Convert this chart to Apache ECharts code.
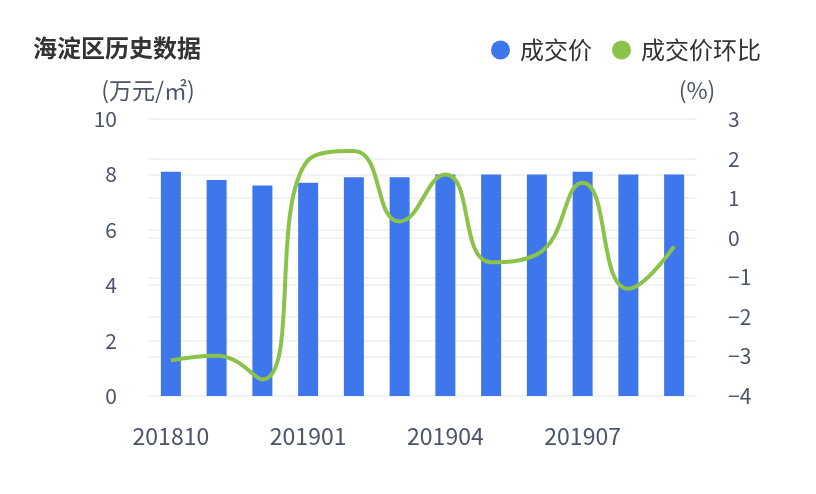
<!DOCTYPE html>
<html>
<head>
<meta charset="utf-8">
<script src="https://cdn.jsdelivr.net/npm/echarts@6/dist/echarts.min.js"></script>
<style>
    html, body { margin: 0; padding: 0; background: #fff; }
</style>
</head>
<body>
<div id="main" style="width: 816px;height:494px;"></div>
<script>
    // 月份
    var months = ['201810', '201811', '201812', '201901', '201902', '201903',
        '201904', '201905', '201906', '201907', '201908', '201909'];
    // 成交价（万元/㎡）
    var price = [8.1, 7.8, 7.6, 7.7, 7.9, 7.9, 8.0, 8.0, 8.0, 8.1, 8.0, 8.0];
    // 成交价环比（%）
    var priceMoM = [-3.1, -2.98, -3.58, 1.96, 2.19, 0.41, 1.6, -0.62, -0.42, 1.39, -1.29, -0.22];

    var font = 'Noto Sans CJK SC';
    var labelColor = '#4b5468';
    var gridColor = '#f2f3f5';

    var myChart = echarts.init(document.getElementById('main'));

    var option = {
        animation: false,
        title: {
            text: '海淀区历史数据',
            left: 33,
            top: 36,
            padding: 0,
            textStyle: {
                fontFamily: font,
                fontSize: 24,
                fontWeight: 'bold',
                color: '#333'
            }
        },
        legend: {
            left: 491,
            top: 38,
            padding: 0,
            icon: 'circle',
            itemWidth: 19,
            itemHeight: 19,
            itemGap: 20,
            textStyle: {
                fontFamily: font,
                fontSize: 24,
                color: '#333',
                padding: [0, 0, 0, 5]
            },
            data: ['成交价', '成交价环比']
        },
        grid: {
            left: 148,
            right: 119,
            top: 119,
            bottom: 98
        },
        xAxis: {
            type: 'category',
            data: months,
            axisLine: { show: false },
            axisTick: { show: false },
            axisLabel: {
                interval: 2,
                margin: 29,
                fontFamily: font,
                fontSize: 23,
                color: labelColor
            }
        },
        yAxis: [{
            type: 'value',
            name: '(万元/㎡)',
            nameGap: 17,
            nameTextStyle: {
                fontFamily: font,
                fontSize: 23,
                color: labelColor
            },
            min: 0,
            max: 10,
            interval: 2,
            axisLine: { show: false },
            axisTick: { show: false },
            axisLabel: {
                margin: 31,
                fontFamily: font,
                fontSize: 21,
                color: labelColor
            },
            splitLine: {
                lineStyle: { color: gridColor, width: 2 }
            }
        }, {
            type: 'value',
            name: '(%)',
            nameGap: 17,
            nameTextStyle: {
                fontFamily: font,
                fontSize: 23,
                color: labelColor
            },
            min: -4,
            max: 3,
            interval: 1,
            axisLine: { show: false },
            axisTick: { show: false },
            axisLabel: {
                margin: 31,
                fontFamily: font,
                fontSize: 21,
                color: labelColor,
                formatter: function (v) {
                    return v < 0 ? '\u2212' + Math.abs(v) : String(v);
                }
            },
            splitLine: {
                lineStyle: { color: gridColor, width: 2 }
            }
        }],
        series: [{
            name: '成交价',
            type: 'bar',
            barWidth: 20,
            itemStyle: {
                color: '#3e77ec'
            },
            data: price
        }, {
            name: '成交价环比',
            type: 'line',
            yAxisIndex: 1,
            smooth: true,
            showSymbol: false,
            lineStyle: {
                color: '#8bc34a',
                width: 4
            },
            itemStyle: {
                color: '#8bc34a'
            },
            data: priceMoM
        }]
    };

    myChart.setOption(option);
</script>
</body>
</html>
